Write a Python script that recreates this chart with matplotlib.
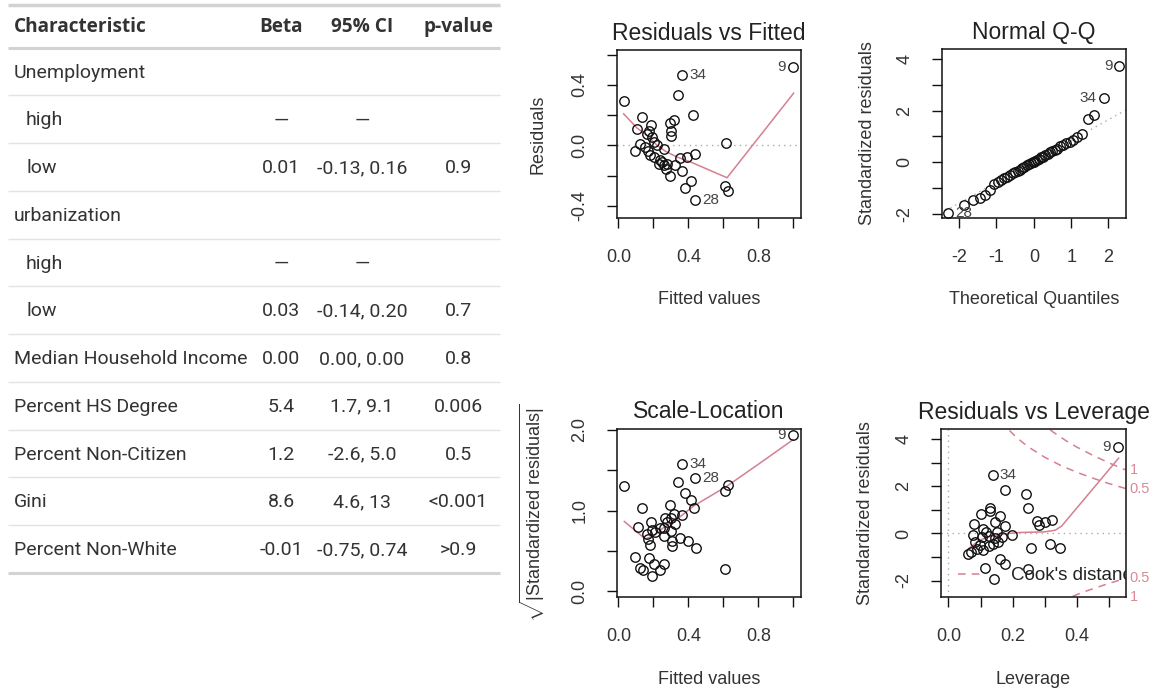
import matplotlib
matplotlib.use("Agg")
import matplotlib.pyplot as plt

# ---------------- tabla de regresion ----------------
caracteristicas = ["Unemployment", "high", "low", "urbanization", "high", "low",
                   "Median Household Income", "Percent HS Degree",
                   "Percent Non-Citizen", "Gini", "Percent Non-White"]
sangria = [False, True, True, False, True, True, False, False, False, False, False]
beta = ["", "—", "0.01", "", "—", "0.03", "0.00", "5.4", "1.2", "8.6", "-0.01"]
ic95 = ["", "—", "-0.13, 0.16", "", "—", "-0.14, 0.20", "0.00, 0.00",
        "1.7, 9.1", "-2.6, 5.0", "4.6, 13", "-0.75, 0.74"]
pvalor = ["", "", "0.9", "", "", "0.7", "0.8", "0.006", "0.5", "<0.001", ">0.9"]
encabezados = ["Characteristic", "Beta", "95% CI", "p-value"]

# ---------------- Residuals vs Fitted ----------------
fit1 = [0.03, 0.364, 0.998, 0.339, 0.427, 0.135, 0.316, 0.297, 0.301, 0.303,
        0.187, 0.173, 0.107, 0.164, 0.192, 0.126, 0.097, 0.154, 0.202, 0.221,
        0.259, 0.615, 0.44, 0.392, 0.354, 0.179, 0.202, 0.24, 0.25, 0.23,
        0.278, 0.326, 0.274, 0.364, 0.297, 0.417, 0.379, 0.611, 0.625, 0.44,
        0.17, 0.26]
res1 = [0.295, 0.468, 0.516, 0.334, 0.201, 0.19, 0.17, 0.149, 0.092, 0.061,
        0.135, 0.098, 0.105, 0.077, 0.055, 0.011, -0.039, -0.011, 0.022, 0.0,
        -0.022, 0.013, -0.055, -0.077, -0.083, -0.066, -0.077, -0.098, -0.109, -0.12,
        -0.12, -0.131, -0.157, -0.17, -0.201, -0.236, -0.28, -0.267, -0.299, -0.363,
        -0.04, -0.13]
suave1_x = [0.030, 0.107, 0.164, 0.221, 0.269, 0.335, 0.411, 0.621, 1.002]
suave1_y = [0.208, 0.114, 0.066, 0.0, -0.039, -0.077, -0.109, -0.214, 0.345]
etiq1 = [("34", 0.364, 0.468, "r"), ("9", 0.998, 0.516, "l"), ("28", 0.44, -0.363, "r")]

# ---------------- Normal Q-Q ----------------
qq_x = [-2.29, -1.87, -1.62, -1.44, -1.30, -1.17, -1.06, -0.96, -0.87, -0.79,
        -0.71, -0.63, -0.56, -0.50, -0.43, -0.37, -0.31, -0.25, -0.19, -0.14,
        -0.08, -0.03, 0.0, 0.03, 0.08, 0.14, 0.19, 0.25, 0.31, 0.37,
        0.43, 0.50, 0.56, 0.63, 0.71, 0.79, 0.87, 0.96, 1.06, 1.17,
        1.30, 1.44, 1.62, 1.87, 2.29]
qq_y = [-1.96, -1.68, -1.47, -1.40, -1.27, -1.10, -0.86, -0.77, -0.70, -0.62,
        -0.57, -0.49, -0.44, -0.38, -0.33, -0.29, -0.22, -0.18, -0.12, -0.09,
        -0.03, 0.00, 0.02, 0.06, 0.09, 0.13, 0.19, 0.22, 0.28, 0.31,
        0.38, 0.42, 0.49, 0.53, 0.61, 0.66, 0.74, 0.80, 0.88, 0.99,
        1.08, 1.68, 1.83, 2.50, 3.73]
qqlinea_x = [-2.5, 2.5]
qqlinea_y = [-1.995, 2.055]
etiq2 = [("9", 2.29, 3.73, "l"), ("34", 1.87, 2.50, "l"), ("28", -2.29, -1.96, "r")]

# ---------------- Scale-Location ----------------
fit3 = [0.998, 0.364, 0.44, 0.03, 0.339, 0.627, 0.611, 0.383, 0.417, 0.43,
        0.135, 0.297, 0.316, 0.269, 0.364, 0.301, 0.187, 0.11, 0.24, 0.259,
        0.326, 0.192, 0.164, 0.303, 0.169, 0.183, 0.263, 0.307, 0.307, 0.354,
        0.396, 0.444, 0.611, 0.097, 0.173, 0.122, 0.141, 0.202, 0.263, 0.236,
        0.192, 0.21, 0.28]
sl3 = [1.93, 1.58, 1.406, 1.303, 1.357, 1.311, 1.242, 1.213, 1.135, 1.037,
       1.037, 1.066, 0.963, 0.902, 0.943, 0.902, 0.861, 0.791, 0.783, 0.783,
       0.84, 0.758, 0.709, 0.75, 0.648, 0.578, 0.689, 0.627, 0.566, 0.656,
       0.627, 0.537, 0.279, 0.422, 0.41, 0.287, 0.266, 0.34, 0.34, 0.27,
       0.184, 0.74, 0.86]
suave3_x = [0.034, 0.154, 0.202, 0.259, 0.335, 0.430, 0.526, 0.621, 0.811, 0.998]
suave3_y = [0.865, 0.648, 0.689, 0.791, 0.893, 1.057, 1.18, 1.303, 1.59, 1.877]
etiq3 = [("9", 0.998, 1.93, "l"), ("34", 0.364, 1.58, "r"), ("28", 0.44, 1.406, "r")]

# ---------------- Residuals vs Leverage ----------------
lev4 = [0.528, 0.138, 0.177, 0.242, 0.249, 0.130, 0.130, 0.102, 0.161, 0.146,
        0.081, 0.177, 0.109, 0.275, 0.301, 0.322, 0.283, 0.076, 0.151, 0.198,
        0.104, 0.125, 0.166, 0.083, 0.099, 0.125, 0.14, 0.156, 0.062, 0.071,
        0.088, 0.107, 0.257, 0.315, 0.349, 0.161, 0.177, 0.114, 0.143, 0.249,
        0.146, 0.118]
sr4 = [3.69, 2.47, 1.84, 1.66, 1.07, 1.10, 0.955, 0.815, 0.744, 0.506,
       0.42, 0.32, 0.18, 0.53, 0.49, 0.56, 0.365, -0.07, 0.08, -0.07,
       -0.17, -0.1, -0.17, -0.38, -0.48, -0.52, -0.45, -0.38, -0.87, -0.8,
       -0.66, -0.69, -0.62, -0.45, -0.63, -1.08, -1.29, -1.47, -1.95, -1.53,
       -0.2, 0.05]
suave4_x = [0.068, 0.094, 0.125, 0.166, 0.218, 0.301, 0.333, 0.353, 0.530]
suave4_y = [-0.59, -0.31, -0.14, -0.03, 0.04, 0.07, 0.14, 0.32, 3.20]
etiq4 = [("9", 0.528, 3.69, "l"), ("34", 0.138, 2.47, "r")]
# curvas de distancia de Cook
cook05_sup_x = [0.19, 0.21, 0.23, 0.25, 0.30, 0.35, 0.40, 0.45, 0.50, 0.552]
cook05_sup_y = [4.38, 4.11, 3.88, 3.67, 3.24, 2.89, 2.60, 2.35, 2.12, 1.91]
cook1_sup_x = [0.317, 0.34, 0.37, 0.40, 0.45, 0.50, 0.552]
cook1_sup_y = [4.40, 4.18, 3.91, 3.67, 3.32, 3.00, 2.70]
cook05_inf_x = [0.387, 0.42, 0.45, 0.50, 0.552]
cook05_inf_y = [-2.67, -2.49, -2.35, -2.12, -1.91]
cook_niveles = ["1", "0.5", "0.5", "1"]
cook_niveles_y = [2.70, 1.91, -1.91, -2.70]

W, H = 1154, 690
ROSA = "#d4808f"
GRIS = "#333333"

plt.rcParams["font.family"] = ["Liberation Sans", "DejaVu Sans"]
plt.rcParams["mathtext.fontset"] = "custom"
plt.rcParams["mathtext.rm"] = "Liberation Sans"
plt.rcParams["mathtext.it"] = "Liberation Sans:italic"

fig = plt.figure(figsize=(W / 100, H / 100), dpi=100)


def rect(x0, y0, x1, y1):
    return [x0 / W, 1 - y1 / H, (x1 - x0) / W, (y1 - y0) / H]


# ---- tabla
axt = fig.add_axes([0, 0, 505 / W, 1])
axt.set_xlim(0, 505)
axt.set_ylim(H, 0)
axt.axis("off")
tab_font = ["Roboto", "DejaVu Sans"]
enc_font = ["Open Sans", "DejaVu Sans"]
fila_h = 47.75
y_enc = 47.7
col_x = [14, 281, 362, 458]
axt.hlines(5, 8, 500, color="#d3d3d3", lw=2.5)
axt.hlines(y_enc, 8, 500, color="#d3d3d3", lw=2.2)
for j, enc in enumerate(encabezados):
    axt.text(col_x[j], 27, enc, ha="left" if j == 0 else "center", va="center",
             fontsize=13.7, fontweight="bold", color=GRIS, family=enc_font)
for i in range(len(caracteristicas)):
    yc = y_enc + fila_h * (i + 0.5) + 1
    x0 = col_x[0] + (12 if sangria[i] else 0)
    axt.text(x0, yc, caracteristicas[i], ha="left", va="center", fontsize=14,
             color=GRIS, family=tab_font)
    for j, val in enumerate([beta[i], ic95[i], pvalor[i]]):
        axt.text(col_x[j + 1], yc, val, ha="center", va="center", fontsize=14,
                 color=GRIS, family=tab_font)
    yl = y_enc + fila_h * (i + 1)
    ultima = i == len(caracteristicas) - 1
    axt.hlines(yl, 8, 500, color="#d3d3d3" if ultima else "#e3e3e3",
               lw=2.2 if ultima else 1.0)


def panel(r, xlim, ylim, xt, xl, yt, yl, titulo, xlab, ylab, ylab_x):
    ax = fig.add_axes(r)
    ax.set_xlim(xlim)
    ax.set_ylim(ylim)
    ax.set_xticks(xt)
    ax.set_xticklabels(xl)
    ax.set_yticks(yt)
    ax.set_yticklabels(yl)
    ax.tick_params(direction="out", length=7, width=1, labelsize=13,
                   color="#111111", labelcolor=GRIS)
    ax.tick_params(axis="x", pad=15)
    ax.tick_params(axis="y", pad=13.5)
    for lab in ax.get_yticklabels():
        lab.set_rotation(90)
        lab.set_va("center")
    for s in ax.spines.values():
        s.set_linewidth(1.1)
        s.set_color("#111111")
    alto = r[3] * H
    ancho = r[2] * W
    ax.text(0.5, 1 + 17 / alto, titulo, transform=ax.transAxes, ha="center",
            va="center", fontsize=16.5, color="#222222")
    ax.text(0.5, -82 / alto, xlab, transform=ax.transAxes, ha="center",
            va="center", fontsize=13, color=GRIS)
    ax.text(-ylab_x / ancho, 0.5, ylab, transform=ax.transAxes, ha="center",
            va="center", rotation=90, fontsize=13, color=GRIS)
    return ax


def puntos(ax, x, y):
    ax.plot(x, y, "o", mfc="none", mec="#111111", ms=6.8, mew=1.0, zorder=3)


def etiquetas(ax, lista):
    for txt, x, y, lado in lista:
        dx = 5 if lado == "r" else -5
        ax.annotate(txt, (x, y), xytext=(dx, 0), textcoords="offset points",
                    ha="left" if lado == "r" else "right", va="center",
                    fontsize=11, color="#444444")


# ---- Residuals vs Fitted
ax1 = panel(rect(617, 50, 801, 218), (-0.008, 1.044), (-0.48, 0.63),
            [0, 0.2, 0.4, 0.6, 0.8, 1.0], ["0.0", "", "0.4", "", "0.8", ""],
            [-0.4, -0.2, 0, 0.2, 0.4, 0.6], ["-0.4", "", "0.0", "", "0.4", ""],
            "Residuals vs Fitted", "Fitted values", "Residuals", 79)
ax1.axhline(0, color="#aaaaaa", lw=1, ls=(0, (1, 3)))
ax1.plot(suave1_x, suave1_y, color=ROSA, lw=1.1, zorder=2)
puntos(ax1, fit1, res1)
etiquetas(ax1, etiq1)

# ---- Normal Q-Q
ax2 = panel(rect(942, 49, 1126, 218), (-2.46, 2.47), (-2.17, 4.40),
            [-2, -1, 0, 1, 2], ["-2", "-1", "0", "1", "2"],
            [-2, -1, 0, 1, 2, 3, 4], ["-2", "", "0", "", "2", "", "4"],
            "Normal Q-Q", "Theoretical Quantiles", "Standardized residuals", 75)
ax2.plot(qqlinea_x, qqlinea_y, color="#aaaaaa", lw=1, ls=(0, (1, 3)), zorder=1)
puntos(ax2, qq_x, qq_y)
etiquetas(ax2, etiq2)

# ---- Scale-Location
ax3 = panel(rect(617, 429, 801, 597), (-0.008, 1.044), (-0.07, 2.01),
            [0, 0.2, 0.4, 0.6, 0.8, 1.0], ["0.0", "", "0.4", "", "0.8", ""],
            [0, 0.5, 1.0, 1.5, 2.0], ["0.0", "", "1.0", "", "2.0"],
            "Scale-Location", "Fitted values",
            r"$\sqrt{|\mathrm{Standardized\ residuals}|}$", 85)
ax3.plot(suave3_x, suave3_y, color=ROSA, lw=1.1, zorder=2)
puntos(ax3, fit3, sl3)
etiquetas(ax3, etiq3)

# ---- Residuals vs Leverage
ax4 = panel(rect(941, 429, 1126, 597), (-0.023, 0.553), (-2.70, 4.44),
            [0, 0.1, 0.2, 0.3, 0.4, 0.5], ["0.0", "", "0.2", "", "0.4", ""],
            [-2, -1, 0, 1, 2, 3, 4], ["-2", "", "0", "", "2", "", "4"],
            "Residuals vs Leverage", "Leverage", "Standardized residuals", 76)
ax4.axhline(0, color="#aaaaaa", lw=1, ls=(0, (1, 3)))
ax4.axvline(0, color="#aaaaaa", lw=1, ls=(0, (1, 3)))
for cx, cy in [(cook05_sup_x, cook05_sup_y), (cook1_sup_x, cook1_sup_y),
               (cook05_inf_x, cook05_inf_y)]:
    ax4.plot(cx, cy, color=ROSA, lw=1.1, ls=(0, (5, 4)), zorder=2)
ax4.plot(suave4_x, suave4_y, color=ROSA, lw=1.1, zorder=2)
puntos(ax4, lev4, sr4)
etiquetas(ax4, etiq4)
ax4.plot([0.030, 0.105], [-1.74, -1.74], color=ROSA, lw=1.1, ls=(0, (5, 4)))
ax4.text(0.195, -1.78, "Cook's distance", fontsize=13.5, color="#222222",
         ha="left", va="center", clip_on=True)
for txt, yv in zip(cook_niveles, cook_niveles_y):
    ax4.text(1.02, yv, txt, transform=ax4.get_yaxis_transform(), fontsize=10.5,
             color="#d88a98", ha="left", va="center", clip_on=False)

fig.savefig("out.png", dpi=100)
